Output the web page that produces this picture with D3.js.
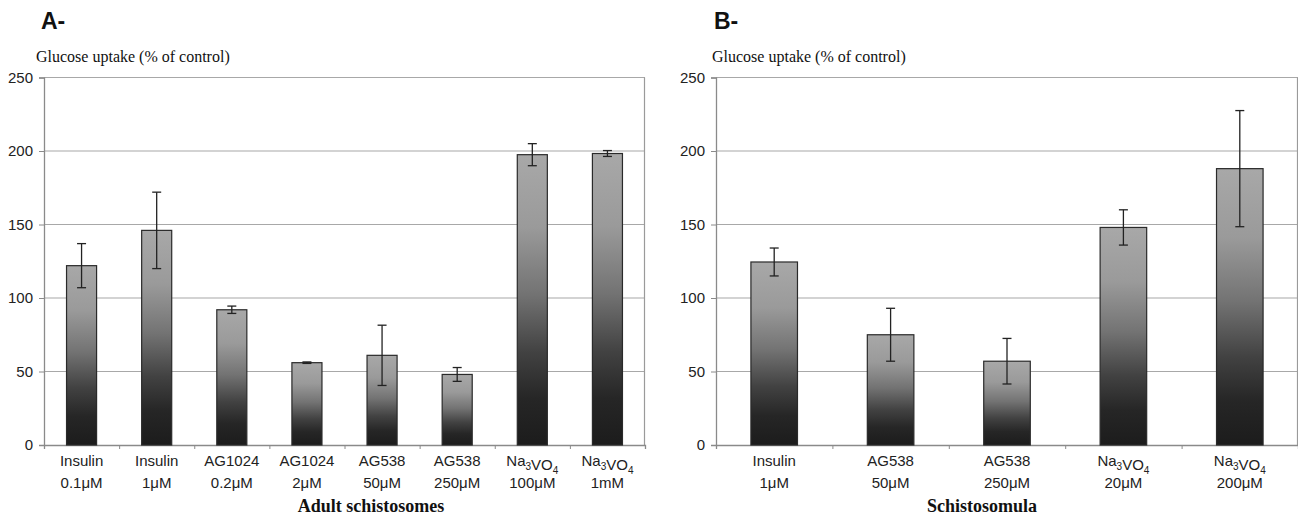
<!DOCTYPE html>
<html><head><meta charset="utf-8">
<script src="https://cdn.jsdelivr.net/npm/d3@7"></script>
<style>body{margin:0;background:#fff}svg{display:block}</style>
</head><body>
<svg id="c" width="1298" height="516"></svg>
<script>
// ---- data ----
const catsA_line1 = ["Insulin","Insulin","AG1024","AG1024","AG538","AG538","Na_3VO_4","Na_3VO_4"];
const catsA_line2 = ["0.1μM","1μM","0.2μM","2μM","50μM","250μM","100μM","1mM"];
const valuesA = [122, 146, 92, 56, 61, 48, 197.5, 198.3];
const errorsA = [15, 26, 2.5, 0.5, 20.5, 4.7, 7.5, 2];

const catsB_line1 = ["Insulin","AG538","AG538","Na_3VO_4","Na_3VO_4"];
const catsB_line2 = ["1μM","50μM","250μM","20μM","200μM"];
const valuesB = [124.5, 75, 57, 148, 188];
const errorsB = [9.5, 18, 15.5, 12, 39.5];

const yTicks = [0, 50, 100, 150, 200, 250];
const yTitle = "Glucose uptake (% of control)";
const panelLetters = ["A-", "B-"];
const xTitles = ["Adult schistosomes", "Schistosomula"];

const svg = d3.select("#c");
const defs = svg.append("defs");
const grad = defs.append("linearGradient").attr("id","bg")
  .attr("x1",0).attr("y1",0).attr("x2",0).attr("y2",1);
[[0,"#a8a8a8"],[0.25,"#9a9a9a"],[0.48,"#737373"],[0.68,"#424242"],[0.84,"#262626"],[1,"#1c1c1c"]]
  .forEach(([o,c])=>grad.append("stop").attr("offset",o).attr("stop-color",c));

function addLabel(sel, txt){
  // parse "_d" as subscript
  const parts = txt.split(/(_\d)/).filter(s=>s.length);
  parts.forEach(p=>{
    if(p[0]==="_"){
      sel.append("tspan").attr("dy",4).attr("font-size",10).text(p.slice(1));
      sel.append("tspan").attr("dy",-4).text("");
    } else sel.append("tspan").text(p);
  });
}

function panel(cfg){
  const {x0,x1,yTop,yBot,l1,l2,vals,errs,letter,letterX,titleX,xTitle,xTitleX} = cfg;
  const g = svg.append("g");
  const y = d3.scaleLinear().domain([0,250]).range([yBot,yTop]);
  const x = d3.scaleBand().domain(d3.range(vals.length)).range([x0,x1]).paddingInner(0.6).paddingOuter(0.3);
  const xb = d3.scaleLinear().domain([0,vals.length]).range([x0,x1]);

  // gridlines
  g.selectAll("line.grid").data(yTicks.filter(t=>t>0)).join("line")
    .attr("x1",x0).attr("x2",x1).attr("y1",d=>y(d)).attr("y2",d=>y(d))
    .attr("stroke","#a8a8a8").attr("stroke-width",1.2);
  // right frame
  g.append("line").attr("x1",x1-0.5).attr("x2",x1-0.5).attr("y1",yTop).attr("y2",yBot)
    .attr("stroke","#9a9a9a").attr("stroke-width",1.2);

  // y axis
  const ya = d3.axisLeft(y).tickValues(yTicks).tickSize(5).tickPadding(6);
  const yg = g.append("g").attr("transform",`translate(${x0},0)`).call(ya);
  yg.select(".domain").attr("stroke","#8a8a8a").attr("stroke-width",1.3);
  yg.selectAll(".tick line").attr("stroke","#8a8a8a");
  yg.selectAll("text").attr("font-family","Liberation Sans, Arial, sans-serif").attr("font-size",15).attr("fill","#222");

  // x axis with ticks at boundaries
  const xa = d3.axisBottom(xb).tickValues(d3.range(vals.length+1)).tickSize(4).tickFormat("");
  const xg = g.append("g").attr("transform",`translate(0,${yBot})`).call(xa);
  xg.select(".domain").attr("stroke","#8a8a8a").attr("stroke-width",1.3);
  xg.selectAll(".tick line").attr("stroke","#8a8a8a");

  // bars
  g.selectAll("rect.bar").data(vals).join("rect")
    .attr("x",(d,i)=>x(i)).attr("width",x.bandwidth())
    .attr("y",d=>y(d)).attr("height",d=>y(0)-y(d))
    .attr("fill","url(#bg)").attr("stroke","#2a2a2a").attr("stroke-width",1.2);

  // error bars
  const eg = g.selectAll("g.err").data(vals).join("g")
    .attr("transform",(d,i)=>`translate(${x(i)+x.bandwidth()/2},0)`);
  eg.append("line").attr("y1",(d,i)=>y(d+errs[i])).attr("y2",(d,i)=>y(d-errs[i]))
    .attr("stroke","#222").attr("stroke-width",1.3);
  eg.append("line").attr("x1",-4.5).attr("x2",4.5).attr("y1",(d,i)=>y(d+errs[i])).attr("y2",(d,i)=>y(d+errs[i]))
    .attr("stroke","#222").attr("stroke-width",1.3);
  eg.append("line").attr("x1",-4.5).attr("x2",4.5).attr("y1",(d,i)=>y(d-errs[i])).attr("y2",(d,i)=>y(d-errs[i]))
    .attr("stroke","#222").attr("stroke-width",1.3);

  // category labels
  vals.forEach((v,i)=>{
    const cx = x(i)+x.bandwidth()/2;
    const t1 = g.append("text").attr("x",cx).attr("y",yBot+21).attr("text-anchor","middle")
      .attr("font-family","Liberation Sans, Arial, sans-serif").attr("font-size",15).attr("fill","#222");
    addLabel(t1,l1[i]);
    g.append("text").attr("x",cx).attr("y",yBot+43).attr("text-anchor","middle")
      .attr("font-family","Liberation Sans, Arial, sans-serif").attr("font-size",15).attr("fill","#222").text(l2[i]);
  });

  // titles
  g.append("text").attr("x",letterX).attr("y",29).attr("font-family","Liberation Sans, Arial, sans-serif")
    .attr("font-weight","bold").attr("font-size",23).attr("fill","#111").text(letter);
  g.append("text").attr("x",titleX).attr("y",62).attr("font-family","Liberation Serif, Times New Roman, serif")
    .attr("font-size",16).attr("fill","#111").text(yTitle);
  g.append("text").attr("x",xTitleX).attr("y",512).attr("text-anchor","middle")
    .attr("font-family","Liberation Serif, Times New Roman, serif").attr("font-weight","bold")
    .attr("font-size",18).attr("fill","#111").text(xTitle);
}

panel({x0:44,x1:645,yTop:77.5,yBot:445,l1:catsA_line1,l2:catsA_line2,vals:valuesA,errs:errorsA,
  letter:panelLetters[0],letterX:41,titleX:36,xTitle:xTitles[0],xTitleX:371});
panel({x0:716,x1:1298,yTop:77.5,yBot:445,l1:catsB_line1,l2:catsB_line2,vals:valuesB,errs:errorsB,
  letter:panelLetters[1],letterX:714,titleX:712,xTitle:xTitles[1],xTitleX:982});
</script>
</body></html>
